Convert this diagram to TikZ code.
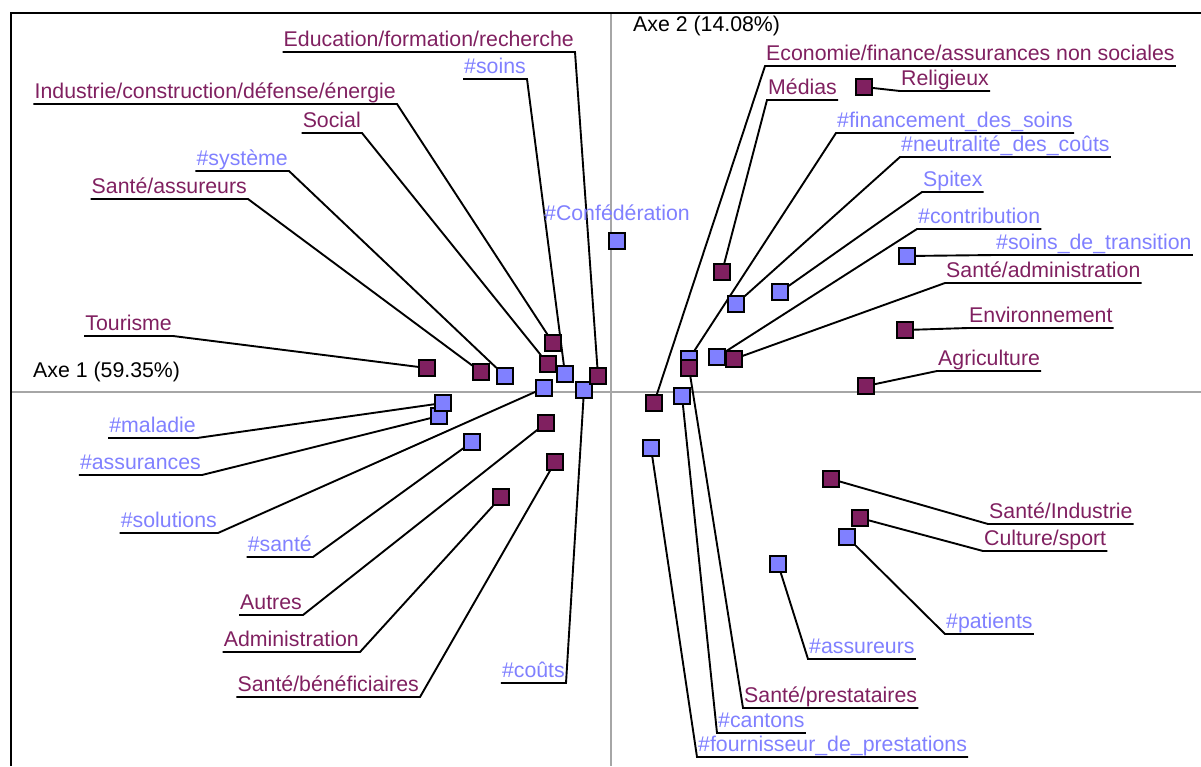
\documentclass[tikz,border=0pt]{standalone}
\usepackage{fontspec}
\setmainfont{Liberation Sans}
\usetikzlibrary{backgrounds}
\definecolor{modcol}{RGB}{128,32,96}
\definecolor{tagcol}{RGB}{128,128,255}

\begin{document}
\begin{tikzpicture}[x=1pt,y=-1pt,
  pt/.style={draw=black,line width=2pt,minimum size=15.5pt,inner sep=0pt},
  mod/.style={pt,fill=modcol},
  tag/.style={pt,fill=tagcol},
  lbl/.style={font=\fontsize{21.3}{24}\selectfont,inner xsep=1pt,inner ysep=0pt,text height=15pt,text depth=5pt},
  lead/.style={line width=1.9pt}]
\useasboundingbox (0,0) rectangle (1201,766);

\foreach \n/\x/\y in {fin/689/359, sys/505/376, soins/565/374, conf/617/241, ass/439/416, mal/443/403,
  sol/544/388, sante/472/442, couts/584/390, neu/736/304, spi/780/292, contr/717/357,
  trans/907/256, pat/847/537, assu/778/564, cant/682/396, four/651/448}
  \node[tag] (p\n) at (\x,\y) {};
\foreach \n/\x/\y in {edu/598/376, ind/553/343, soc/548/364, sass/481/372, tour/427/368, autr/546/423,
  adm/501/497, sben/555/462, eco/654/403, med/722/272, rel/864/87, sadm/734/359, env/905/330,
  agr/866/386, sind/831/479, cult/860/518, spre/689/368}
  \node[mod] (p\n) at (\x,\y) {};

\foreach \n/\x/\y/\c/\t in {edu/575/52/modcol/{Education/formation/recherche},
  soins/527/79/tagcol/{\#soins},
  ind/397/104/modcol/{Industrie/construction/défense/énergie},
  soc/362/133/modcol/{Social},
  sys/289/171/tagcol/{\#système},
  sass/248/199/modcol/{Santé/assureurs},
  tour/173/336/modcol/{Tourisme},
  mal/197/438/tagcol/{\#maladie},
  ass/202/475/tagcol/{\#assurances},
  sol/218/533/tagcol/{\#solutions},
  sante/313/557/tagcol/{\#santé},
  autr/303/615/modcol/{Autres},
  adm/360/652/modcol/{Administration},
  sben/420/697/modcol/{Santé/bénéficiaires},
  couts/566/683/tagcol/{\#coûts}}
  \node[lbl,text=\c,anchor=south east] (l\n) at (\x,\y) {\t};

\foreach \n/\x/\y/\c/\t in {eco/765/66/modcol/{Economie/finance/assurances non sociales},
  med/767/100/modcol/{Médias},
  rel/900/91/modcol/{Religieux},
  fin/836/133/tagcol/{\#financement\_des\_soins},
  neu/900/157/tagcol/{\#neutralité\_des\_coûts},
  spi/922/192/tagcol/{Spitex},
  contr/917/229/tagcol/{\#contribution},
  trans/995/255/tagcol/{\#soins\_de\_transition},
  sadm/945/283/modcol/{Santé/administration},
  env/968/328/modcol/{Environnement},
  agr/937/371/modcol/{Agriculture},
  sind/988/524/modcol/{Santé/Industrie},
  cult/983/551/modcol/{Culture/sport},
  pat/945/634/tagcol/{\#patients},
  assu/808/659/tagcol/{\#assureurs},
  spre/743/708/modcol/{Santé/prestataires},
  cant/717/733/tagcol/{\#cantons},
  four/697/757/tagcol/{\#fournisseur\_de\_prestations}}
  \node[lbl,text=\c,anchor=south west] (l\n) at (\x,\y) {\t};

\node[lbl,text=tagcol,anchor=base] (lconf) at (617,220) {\#Confédération};
\node[lbl,anchor=base west] (ax1) at (32,377) {Axe 1 (59.35\%)};
\node[lbl,anchor=base west] (ax2) at (632,31) {Axe 2 (14.08\%)};

\begin{scope}[on background layer]
\draw[black!35,line width=1.2pt] (11,392) -- (1201,392);
\draw[black!35,line width=1.2pt] (611,13) -- (611,766);
\draw[line width=2.2pt] (11,766) -- (11,13) -- (1201,13);
\foreach \n in {edu,soins,ind,soc,sys,sass,tour,mal,ass,sol,sante,autr,adm,sben,couts}
  \draw[lead] (l\n.south west) -- (l\n.south east) -- (p\n);
\foreach \n in {eco,med,rel,fin,neu,spi,contr,trans,sadm,env,agr,sind,cult,pat,assu,spre,cant,four}
  \draw[lead] (l\n.south east) -- (l\n.south west) -- (p\n);
\end{scope}
\end{tikzpicture}
\end{document}
